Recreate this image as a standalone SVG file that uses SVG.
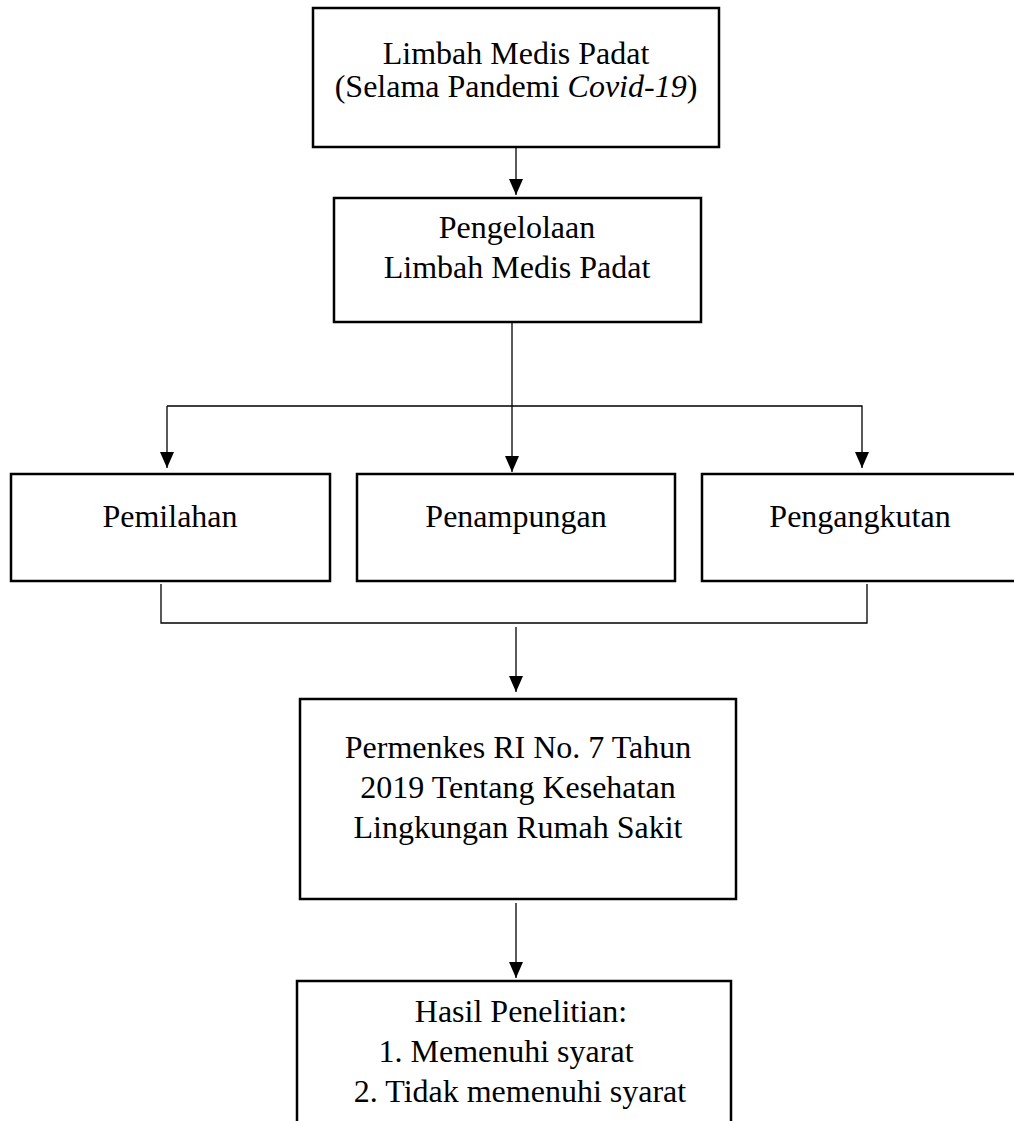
<svg xmlns="http://www.w3.org/2000/svg" width="1014" height="1121" viewBox="0 0 1014 1121">
<style>
.box{fill:#fff;stroke:#000;stroke-width:2.5}
.t{font-family:"Liberation Serif","Times New Roman",serif;font-size:32px;fill:#000;text-anchor:middle}
.c{fill:none;stroke:#000;stroke-width:1.3}
</style>
<defs>
<marker id="ah" markerUnits="userSpaceOnUse" markerWidth="16" markerHeight="14" refX="16" refY="7" orient="auto" viewBox="0 0 16 14">
<path d="M0,0 L16,7 L0,14 z" fill="#000"/>
</marker>
</defs>
<rect width="1014" height="1121" fill="#fff"/>
<g id="connectors">
<line class="c" x1="516" y1="148" x2="516" y2="195" marker-end="url(#ah)"/>
<line class="c" x1="512" y1="323" x2="512" y2="472" marker-end="url(#ah)"/>
<polyline class="c" points="167,406 862,406 862,468" marker-end="url(#ah)"/>
<line class="c" x1="167" y1="406" x2="167" y2="468" marker-end="url(#ah)"/>
<polyline class="c" points="161,584 161,623 867,623 867,584"/>
<line class="c" x1="516" y1="627" x2="516" y2="692" marker-end="url(#ah)"/>
<line class="c" x1="516" y1="903" x2="516" y2="978" marker-end="url(#ah)"/>
</g>
<g id="n1">
<rect class="box" x="313" y="8" width="406" height="139"/>
<text class="t" x="516" y="64">Limbah Medis Padat</text>
<text class="t" x="516" y="97">(Selama Pandemi <tspan font-style="italic">Covid-19</tspan>)</text>
</g>
<g id="n2">
<rect class="box" x="334" y="198" width="367" height="124"/>
<text class="t" x="517" y="238">Pengelolaan</text>
<text class="t" x="517" y="278">Limbah Medis Padat</text>
</g>
<g id="n3">
<rect class="box" x="11" y="474" width="319" height="107"/>
<text class="t" x="170" y="527">Pemilahan</text>
</g>
<g id="n4">
<rect class="box" x="357" y="474" width="318" height="107"/>
<text class="t" x="516" y="527">Penampungan</text>
</g>
<g id="n5">
<rect class="box" x="702" y="474" width="330" height="107"/>
<text class="t" x="860" y="527">Pengangkutan</text>
</g>
<g id="n6">
<rect class="box" x="300" y="699" width="436" height="200"/>
<text class="t" x="518" y="758">Permenkes RI No. 7 Tahun</text>
<text class="t" x="518" y="798">2019 Tentang Kesehatan</text>
<text class="t" x="518" y="838">Lingkungan Rumah Sakit</text>
</g>
<g id="n7">
<rect class="box" x="297" y="981" width="434" height="160"/>
<text class="t" x="521" y="1022">Hasil Penelitian:</text>
<text class="t" x="506" y="1062">1. Memenuhi syarat</text>
<text class="t" x="520" y="1102">2. Tidak memenuhi syarat</text>
</g>
</svg>
